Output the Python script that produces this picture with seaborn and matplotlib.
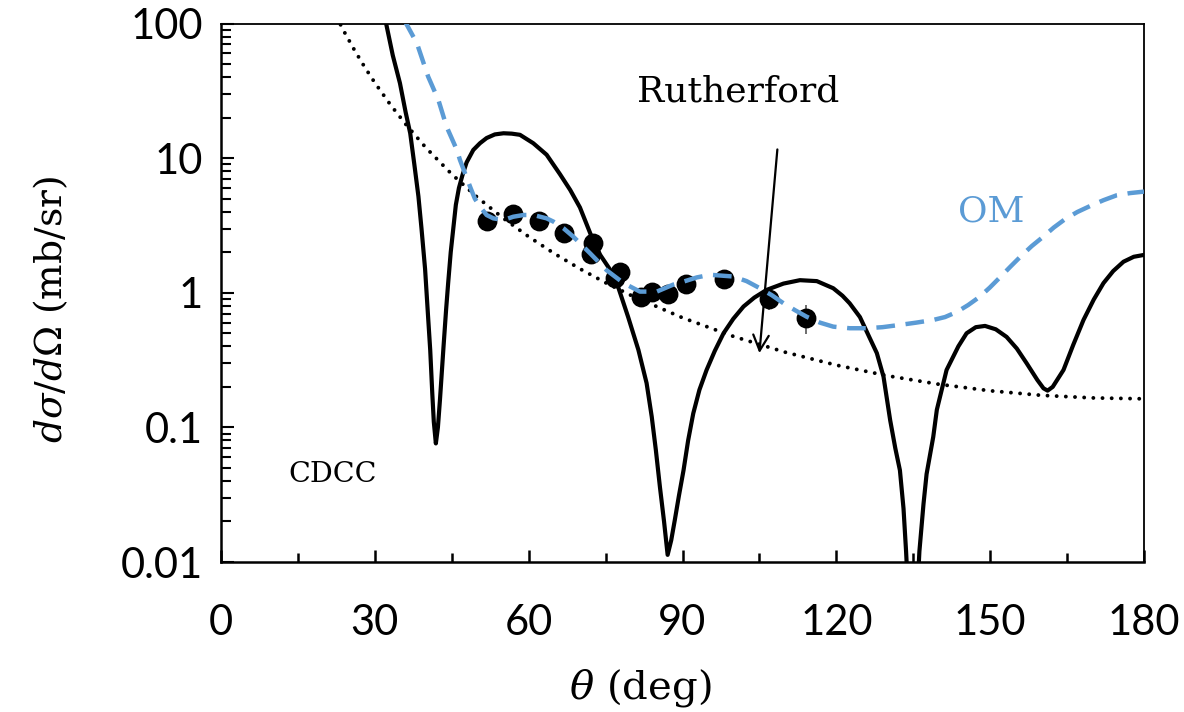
import matplotlib
matplotlib.use("Agg")
import matplotlib.pyplot as plt
import seaborn as sns
import numpy as np
from matplotlib.ticker import LogLocator, NullFormatter, FixedLocator

# ---------------- data ----------------
exp_theta = [51.8, 56.9, 62.0, 66.8, 72.5, 72.1, 77.8, 76.9, 82.0, 84.1, 87.2, 90.6, 98.1, 106.8, 114.1]
exp_xs = [3.43, 3.85, 3.40, 2.77, 2.36, 1.94, 1.43, 1.28, 0.935, 1.01, 0.98, 1.16, 1.27, 0.895, 0.65]
exp_err = [0.45, 0.45, 0.40, 0.35, 0.30, 0.25, 0.20, 0.18, 0.13, 0.14, 0.13, 0.15, 0.17, 0.15, 0.16]

cdcc_theta = [31.6, 32.2, 33.5, 34.9, 36.0, 36.9, 37.7, 38.5, 39.1, 39.8, 40.4, 40.8, 41.2, 41.5,
              41.9, 42.3, 42.7, 43.1, 43.4, 43.9, 44.3, 44.8, 45.3, 45.8, 46.4, 47.1, 47.9, 49.2,
              50.5, 51.8, 53.4, 55.1, 56.7, 58.3, 60.9, 63.5, 66.1, 68.1, 70.0, 73.3, 75.9, 77.2,
              79.4, 81.4, 83.0, 84.0, 84.8, 85.6, 86.4, 87.1, 87.8, 88.5, 89.3, 90.2, 91.1, 92.1,
              93.3, 94.7, 96.3, 98.0, 99.9, 101.9, 104.0, 106.4, 109.7, 112.9, 116.2, 119.4,
              121.2, 122.6, 124.6, 126.3, 127.9, 129.2, 130.5, 131.5, 132.4, 133.1, 133.6, 134.0,
              134.8, 135.8, 136.2, 137.0, 137.6, 138.9, 139.6, 141.5, 143.8, 145.4, 147.2, 149.0,
              151.1, 153.2, 155.2, 157.1, 159.2, 160.4, 161.2, 162.2, 164.3, 166.2, 168.2, 170.2,
              172.1, 174.0, 176.0, 178.0, 180.0]
cdcc_xs = [130, 100, 58, 36.0, 22, 15.3, 9.0, 5.2, 3.0, 1.5, 0.65, 0.376, 0.18, 0.11,
           0.076, 0.10, 0.16, 0.27, 0.40, 0.75, 1.18, 2.0, 3.0, 4.5, 6.0, 7.5, 9.3, 11.5,
           12.9, 14.1, 15.0, 15.3, 15.2, 14.9, 12.9, 10.6, 7.6, 5.8, 4.3, 2.08, 1.48, 1.18,
           0.66, 0.376, 0.213, 0.12, 0.068, 0.036, 0.02, 0.0113, 0.0145, 0.0205, 0.031, 0.048,
           0.08, 0.127, 0.19, 0.267, 0.37, 0.50, 0.64, 0.79, 0.92, 1.05, 1.17, 1.24, 1.22, 1.08,
           0.95, 0.835, 0.66, 0.48, 0.356, 0.238, 0.113, 0.07, 0.048, 0.025, 0.012, 0.006,
           0.002, 0.006, 0.012, 0.027, 0.045, 0.085, 0.135, 0.267, 0.40, 0.50, 0.555, 0.567,
           0.535, 0.47, 0.385, 0.30, 0.225, 0.195, 0.1875, 0.20, 0.267, 0.41, 0.628, 0.89,
           1.18, 1.45, 1.70, 1.85, 1.91]

om_theta = [35.8, 38.2, 40.4, 42.4, 44.0, 46.0, 46.6, 47.6, 48.6, 49.5, 50.5, 51.8, 53.1, 55.1,
            57.0, 59.0, 60.9, 63.5, 64.8, 66.8, 68.7, 72.0, 75.2, 78.5, 81.7, 85.0, 88.2, 90.2,
            92.8, 95.4, 99.9, 102.5, 105.1, 107.4, 109.7, 112.0, 114.2, 116.8, 119.4, 122.6,
            125.9, 129.0, 132.4, 135.6, 138.9, 141.2, 143.5, 145.7, 147.9, 149.9, 151.9, 154.0,
            156.0, 158.1, 160.2, 162.4, 164.6, 167.0, 169.5, 172.1, 174.7, 177.3, 180.0]
om_xs = [105, 71.4, 40.3, 27.0, 17.1, 11.5, 9.7, 7.7, 6.1, 5.0, 4.36, 3.78, 3.57, 3.47,
         3.67, 3.78, 3.78, 3.57, 3.38, 3.01, 2.61, 1.96, 1.47, 1.18, 1.02, 1.02, 1.15, 1.21,
         1.30, 1.36, 1.32, 1.22, 1.08, 0.96, 0.835, 0.74, 0.664, 0.60, 0.56, 0.545,
         0.545, 0.555, 0.577, 0.60, 0.628, 0.66, 0.72, 0.81, 0.93, 1.09, 1.30, 1.57,
         1.87, 2.22, 2.58, 3.05, 3.52, 3.98, 4.41, 4.87, 5.30, 5.50, 5.64]

ruth_theta = [22.5, 24, 26, 28, 30, 33, 36, 40, 45, 50, 55, 60, 65, 70, 75, 80, 90, 100, 110,
              120, 130, 140, 150, 160, 170, 180]
ruth_xs = [112.5, 87.2, 63.7, 47.6, 36.3, 25.05, 17.9, 11.9, 7.60, 5.11, 3.59, 2.61, 1.956, 1.506,
           1.187, 0.955, 0.652, 0.473, 0.362, 0.290, 0.2416, 0.209, 0.187, 0.173, 0.1655, 0.163]

x_ticks = [0, 30, 60, 90, 120, 150, 180]
y_ticks = [0.01, 0.1, 1, 10, 100]
y_tick_labels = ["0.01", "0.1", "1", "10", "100"]

# ---------------- style ----------------
sns.set_theme(style="white")
plt.rcParams["font.family"] = ["Lato", "DejaVu Sans"]
plt.rcParams["mathtext.fontset"] = "dejavuserif"
for k in ["text.color", "axes.labelcolor", "xtick.color", "ytick.color"]:
    plt.rcParams[k] = "black"

fig = plt.figure(figsize=(11.84, 7.12), dpi=100)
ax = fig.add_axes([221 / 1184, 1 - 562 / 712, 923 / 1184, (562 - 23.5) / 712])

blue = "#5B9BD5"

# experimental points
ax.errorbar(exp_theta, exp_xs, yerr=exp_err, fmt="none", ecolor="#555555", elinewidth=1.2, zorder=2)
sns.scatterplot(x=exp_theta, y=exp_xs, ax=ax, color="black", s=175, edgecolor="black", zorder=3)

# Rutherford
sns.lineplot(x=ruth_theta, y=ruth_xs, ax=ax, color="black", linewidth=2.8,
             linestyle=(0, (0.01, 2.35)), dash_capstyle="round", zorder=2.5)
# CDCC
sns.lineplot(x=cdcc_theta, y=cdcc_xs, ax=ax, color="black", linewidth=3.0, zorder=3.5)
# OM
sns.lineplot(x=om_theta, y=om_xs, ax=ax, color=blue, linewidth=3.2,
             linestyle=(0, (4.2, 2.4)), zorder=4)

ax.set_yscale("log")
ax.set_xlim(0, 180)
ax.set_ylim(0.01, 100)

ax.set_xticks(x_ticks)
ax.set_xticklabels([str(t) for t in x_ticks])
ax.xaxis.set_minor_locator(FixedLocator([15, 45, 75, 105, 135, 165]))
ax.set_yticks(y_ticks)
ax.set_yticklabels(y_tick_labels)
ax.yaxis.set_minor_locator(LogLocator(base=10, subs=np.arange(2, 10)))
ax.yaxis.set_minor_formatter(NullFormatter())

ax.tick_params(axis="x", which="major", direction="in", length=9, width=1.8,
               labelsize=30, pad=30, bottom=True, top=False)
ax.tick_params(axis="x", which="minor", direction="in", length=6.5, width=1.8, bottom=True, top=False)
ax.tick_params(axis="y", which="major", direction="in", length=9, width=1.5,
               labelsize=30, pad=13, left=True, right=False)
ax.tick_params(axis="y", which="minor", direction="in", length=7, width=1.5, left=True, right=False)

for side, sp in ax.spines.items():
    sp.set_visible(True)
    sp.set_color("black")
    sp.set_linewidth(1.8 if side in ("left", "bottom") else 1.3)

ax.set_xlabel("")
ax.set_ylabel("")
fig.text(640 / 1184, 1 - 688 / 712, r"$\theta$ (deg)", fontsize=29, family="DejaVu Serif",
         ha="center", va="center")
fig.text(51 / 1184, 1 - 309 / 712, r"$d\sigma/d\mathit{\Omega}$ (mb/sr)", fontsize=27,
         family="DejaVu Serif", ha="center", va="center", rotation=90)

# annotations
ax.text(100.8, 31, "Rutherford", fontsize=26, family="DejaVu Serif", ha="center", va="center")
ax.annotate("", xy=(105.0, 0.356), xytext=(108.5, 11.6),
            arrowprops=dict(arrowstyle="->", color="black", lw=1.6, mutation_scale=28,
                            shrinkA=0, shrinkB=0))
ax.text(150.3, 4.0, "OM", fontsize=26, family="DejaVu Serif", ha="center", va="center", color=blue)
ax.text(21.8, 0.045, "CDCC", fontsize=20.5, family="DejaVu Serif", ha="center", va="center")

fig.savefig("out.png", dpi=100)
